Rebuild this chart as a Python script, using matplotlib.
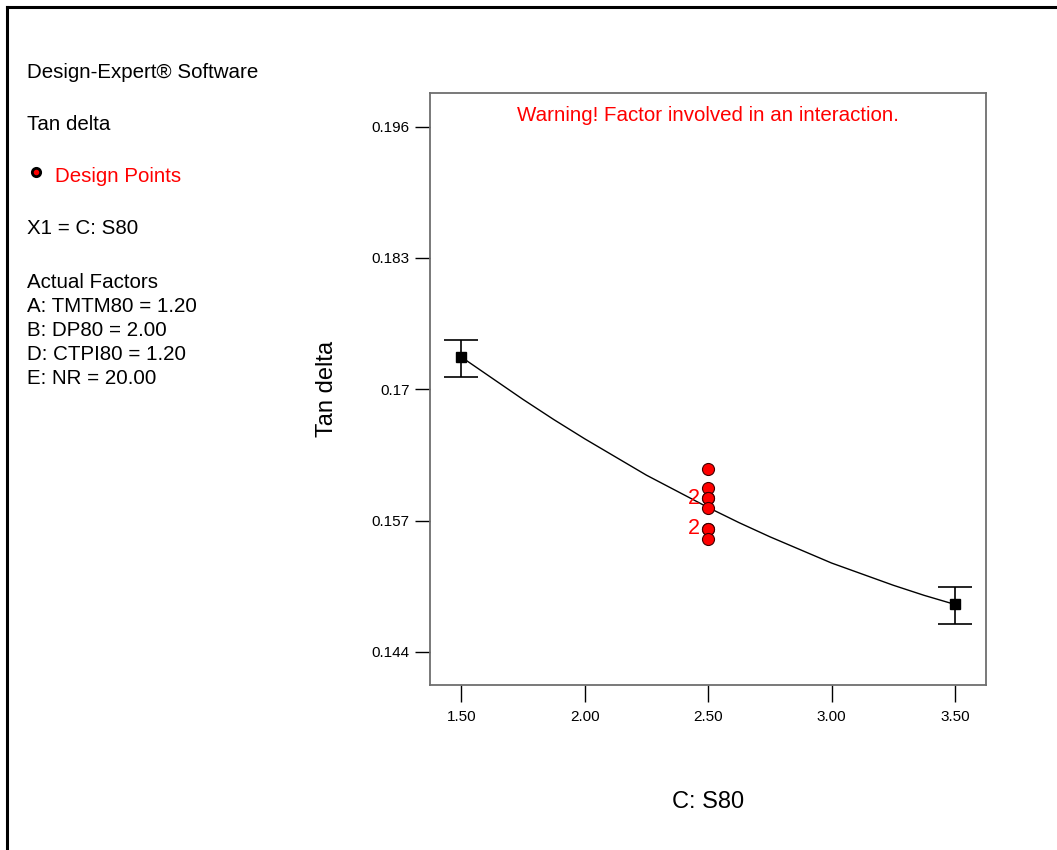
import numpy as np
import matplotlib
matplotlib.use("Agg")
import matplotlib.pyplot as plt
from matplotlib.lines import Line2D

plt.rcParams['font.family'] = ['Liberation Sans', 'DejaVu Sans']

# factor levels and predicted response
x_ends = [1.5, 3.5]
y_ends = [0.1732, 0.1487]
err_lo = [0.1712, 0.1468]
err_hi = [0.1749, 0.1504]

curve_x = [1.5, 1.625, 1.75, 1.875, 2.0, 2.125, 2.25, 2.375, 2.5,
           2.625, 2.75, 2.875, 3.0, 3.125, 3.25, 3.375, 3.5]
curve_y = [0.1732, 0.1711, 0.1690, 0.1670, 0.1651, 0.1633, 0.1615, 0.1599, 0.1583,
           0.1568, 0.1554, 0.1541, 0.1528, 0.1517, 0.1506, 0.1496, 0.1487]

# design points at C = 2.50
pts_x = [2.5, 2.5, 2.5, 2.5, 2.5, 2.5, 2.5, 2.5]
pts_y = [0.1621, 0.1602, 0.1592, 0.1592, 0.1582, 0.1562, 0.1562, 0.1552]
dup_y = [0.1592, 0.1562]  # values that appear twice

xticks = [1.5, 2.0, 2.5, 3.0, 3.5]
yticks = [0.144, 0.157, 0.17, 0.183, 0.196]
ytick_labels = ["0.144", "0.157", "0.17", "0.183", "0.196"]

legend_lines = ["A: TMTM80 = 1.20", "B: DP80 = 2.00", "D: CTPI80 = 1.20", "E: NR = 20.00"]

fig = plt.figure(figsize=(10.57, 8.5), dpi=100)
ax = fig.add_axes([0.4065, 0.1938, 0.5260, 0.6964])

ax.plot(curve_x, curve_y, color="black", lw=1.0, zorder=2)

yerr = [np.array(y_ends) - np.array(err_lo), np.array(err_hi) - np.array(y_ends)]
ax.errorbar(x_ends, y_ends, yerr=yerr, fmt="s", color="black", ms=7.5,
            ecolor="black", elinewidth=1.2, capsize=12, capthick=1.2, zorder=3)

ax.scatter(pts_x, pts_y, s=75, facecolor="red", edgecolor="#400000", linewidth=0.8, zorder=4)
for yv in dup_y:
    ax.annotate("2", (2.5, yv), xytext=(-10, 0), textcoords="offset points",
                ha="center", va="center", color="red", fontsize=15.5)

ax.set_xlim(1.372, 3.624)
ax.set_ylim(0.1407, 0.1993)
ax.set_xticks(xticks)
ax.set_xticklabels(["%.2f" % v for v in xticks])
ax.set_yticks(yticks)
ax.set_yticklabels(ytick_labels)
ax.tick_params(axis="both", labelsize=11, direction="out", color="black", width=1.0)
ax.tick_params(axis="y", length=11, pad=3.5)
ax.tick_params(axis="x", length=12, pad=6)
for s in ax.spines.values():
    s.set_color("#6e6e6e")
    s.set_linewidth(1.3)

ax.set_ylabel("Tan delta", fontsize=17, labelpad=24)
ax.set_xlabel("C: S80", fontsize=17, labelpad=48)
ax.text(0.5, 0.962, "Warning! Factor involved in an interaction.", transform=ax.transAxes,
        ha="center", va="center", color="red", fontsize=14.8)

# side panel text
def fy(py):
    return 1 - py / 850.0

fx = 27 / 1057.0
fs = 14.8
fig.text(fx, fy(72), "Design-Expert\u00ae Software", fontsize=fs, va="center")
fig.text(fx, fy(124), "Tan delta", fontsize=fs, va="center")
fig.text(55 / 1057.0, fy(176), "Design Points", fontsize=fs, va="center", color="red")
fig.add_artist(Line2D([36 / 1057.0], [fy(172)], marker="o", ms=6, mfc="red", mec="black",
                      mew=2, transform=fig.transFigure))
fig.text(fx, fy(228), "X1 = C: S80", fontsize=fs, va="center")
fig.text(fx, fy(282), "Actual Factors", fontsize=fs, va="center")
for i, line in enumerate(legend_lines):
    fig.text(fx, fy(306 + 24.3 * i), line, fontsize=fs, va="center")

# outer frame (left and top edges)
fig.add_artist(Line2D([6.5 / 1057.0, 6.5 / 1057.0], [0, fy(6.5)], color="black", lw=2.2,
                      transform=fig.transFigure))
fig.add_artist(Line2D([6.5 / 1057.0, 1], [fy(6.5), fy(6.5)], color="black", lw=2.2,
                      transform=fig.transFigure))

fig.savefig("out.png", dpi=100)
